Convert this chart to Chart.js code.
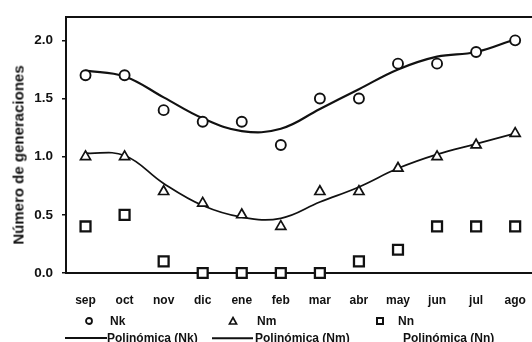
<!DOCTYPE html>
<html>
<head>
<meta charset="utf-8">
<script src="https://cdn.jsdelivr.net/npm/chart.js@4.4.1/dist/chart.umd.min.js"></script>
<style>
  html, body { margin: 0; padding: 0; overflow: hidden; background: #fff; }
  body { width: 532px; height: 342px; position: relative; font-family: 'Liberation Sans', Arial, sans-serif; font-weight: bold; color: #111; }
  #wrap { position: absolute; left: 0; top: 0; width: 544px; height: 342px; }
  canvas { display: block; }
  .ytitle { position: absolute; left: 18px; top: 155px; transform: translate(-50%, -50%) rotate(-90deg); white-space: nowrap; font-size: 15px; }
  .lg { position: absolute; font-size: 12px; line-height: 1; white-space: nowrap; transform: translateY(-50%); }
  .mk { position: absolute; transform: translate(-50%, -50%); }
  .ln { position: absolute; height: 2px; background: #111; transform: translateY(-50%); }
</style>
</head>
<body>
<div id="wrap"><canvas id="c" width="544" height="342"></canvas></div>
<div class="ytitle">Número de generaciones</div>

<!-- legend: marker row -->
<svg class="mk" style="left:89px;top:321px" width="10" height="10"><circle cx="5" cy="5" r="3" fill="#fff" stroke="#111" stroke-width="1.8"/></svg>
<div class="lg" style="left:110px;top:321px">Nk</div>
<svg class="mk" style="left:233px;top:321px" width="10" height="10"><polygon points="5,1.5 8.6,8 1.4,8" fill="#fff" stroke="#111" stroke-width="1.6"/></svg>
<div class="lg" style="left:257px;top:321px">Nm</div>
<svg class="mk" style="left:380px;top:321px" width="10" height="10"><rect x="2" y="2" width="6" height="6" fill="#fff" stroke="#111" stroke-width="2"/></svg>
<div class="lg" style="left:398px;top:321px">Nn</div>

<!-- legend: trend row -->
<div class="ln" style="left:65px;top:338px;width:42px"></div>
<div class="lg" style="left:107px;top:338px">Polinómica (Nk)</div>
<div class="ln" style="left:212px;top:338px;width:41px;height:1.5px"></div>
<div class="lg" style="left:255px;top:338px">Polinómica (Nm)</div>
<div class="lg" style="left:403px;top:338px">Polinómica (Nn)</div>

<script>
// months of the year, September to August
const months = ['sep', 'oct', 'nov', 'dic', 'ene', 'feb', 'mar', 'abr', 'may', 'jun', 'jul', 'ago'];

// number of generations per month
const nk = [1.7, 1.7, 1.4, 1.3, 1.3, 1.1, 1.5, 1.5, 1.8, 1.8, 1.9, 2.0];
const nm = [1.0, 1.0, 0.7, 0.6, 0.5, 0.4, 0.7, 0.7, 0.9, 1.0, 1.1, 1.2];
const nn = [0.4, 0.5, 0.1, 0, 0, 0, 0, 0.1, 0.2, 0.4, 0.4, 0.4];

// polynomial trend values at each month
const nkTrend = [1.74, 1.69, 1.51, 1.33, 1.22, 1.24, 1.41, 1.58, 1.75, 1.86, 1.90, 2.01];
const nmTrend = [1.03, 1.01, 0.77, 0.58, 0.48, 0.47, 0.61, 0.74, 0.90, 1.02, 1.11, 1.20];

// y-axis tick values
const yTicks = [0, 0.5, 1.0, 1.5, 2.0];

const ink = '#111';
const fontFamily = "'Liberation Sans', Arial, sans-serif";

const markerSet = (label, data, style, radius, bw) => ({
  label, data,
  showLine: false,
  pointStyle: style,
  pointRadius: radius,
  pointHoverRadius: radius,
  pointBorderWidth: bw,
  borderColor: ink,
  pointBackgroundColor: '#fff',
  backgroundColor: '#fff',
  clip: false
});

const trendSet = (label, data, width) => ({
  label, data,
  borderColor: ink,
  borderWidth: width,
  pointRadius: 0,
  tension: 0.4,
  fill: false,
  clip: false
});

new Chart(document.getElementById('c'), {
  type: 'line',
  data: {
    labels: months,
    datasets: [
      markerSet('Nk', nk, 'circle', 5, 1.9),
      markerSet('Nm', nm, 'triangle', 5.8, 1.7),
      markerSet('Nn', nn, 'rect', 7, 2.3),
      trendSet('Polinómica (Nk)', nkTrend, 2.2),
      trendSet('Polinómica (Nm)', nmTrend, 1.7)
    ]
  },
  options: {
    responsive: false,
    animation: false,
    devicePixelRatio: 1,
    layout: { padding: 0 },
    plugins: { legend: { display: false }, tooltip: { enabled: false } },
    scales: {
      x: {
        type: 'category',
        position: 'bottom',
        offset: true,
        grid: { display: false },
        border: { display: true, color: ink, width: 2 },
        ticks: {
          color: ink,
          font: { family: fontFamily, size: 12, weight: 'bold' },
          padding: 12,
          maxRotation: 0,
          autoSkip: false
        },
        afterFit: s => { s.height = 69; }
      },
      xTop: {
        type: 'category',
        position: 'top',
        offset: true,
        grid: { display: false },
        border: { display: true, color: ink, width: 2 },
        ticks: { display: false },
        afterFit: s => { s.height = 13; }
      },
      y: {
        min: 0,
        max: 2.2,
        afterBuildTicks: s => { s.ticks = yTicks.map(v => ({ value: v })); },
        grid: { drawOnChartArea: false, drawTicks: true, tickLength: 4, color: ink, lineWidth: 1.5 },
        border: { display: true, color: ink, width: 2 },
        ticks: {
          color: ink,
          font: { family: fontFamily, size: 13.5, weight: 'bold' },
          padding: 9,
          callback: v => Number(v).toFixed(1)
        },
        afterFit: s => { s.width = 66; }
      }
    }
  }
});
</script>
</body>
</html>
